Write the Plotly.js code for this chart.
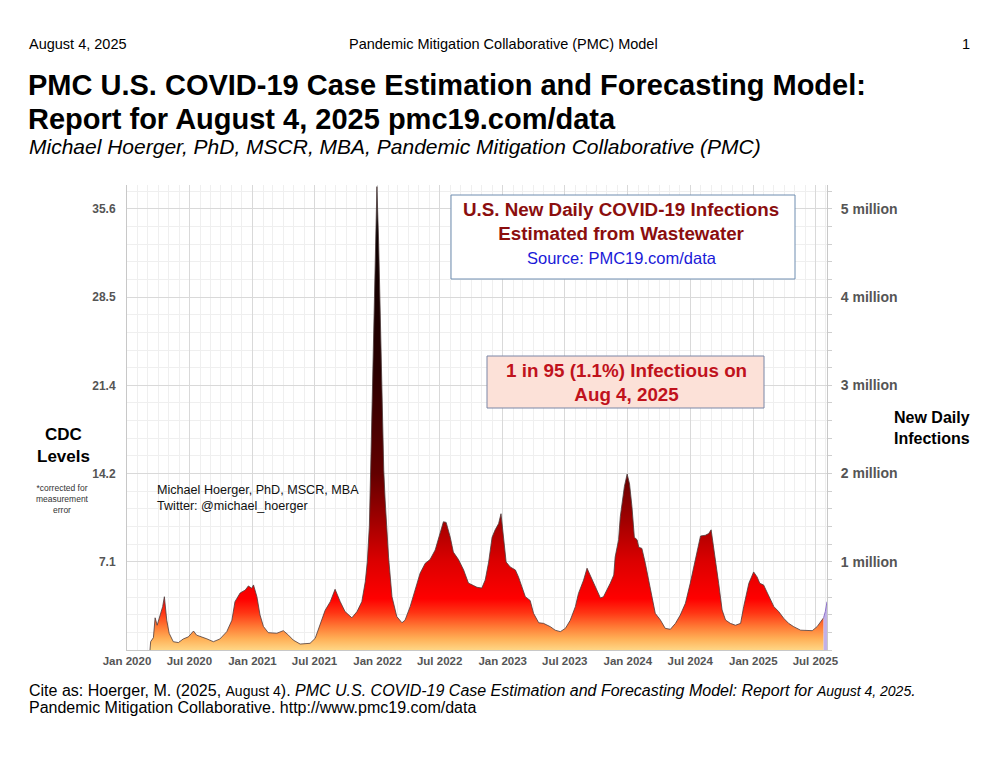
<!DOCTYPE html>
<html>
<head>
<meta charset="utf-8">
<script src="https://cdn.plot.ly/plotly-3.0.1.min.js"></script>
<style>
html,body{margin:0;padding:0;background:#fff;}
#chart{width:1000px;height:761px;}
</style>
</head>
<body>
<div id="chart"></div>
<script>
// ---- data (CDC wastewater levels) ----
const dates = [
'2020-03-08','2020-03-10','2020-03-18','2020-03-23','2020-03-29','2020-04-06','2020-04-14','2020-04-19','2020-04-26','2020-05-03',
'2020-05-15','2020-05-30','2020-06-13','2020-06-28','2020-07-13','2020-07-22','2020-08-06','2020-08-21','2020-09-09','2020-09-28',
'2020-10-18','2020-11-02','2020-11-11','2020-11-26','2020-12-11','2020-12-20','2020-12-30','2021-01-04','2021-01-14','2021-01-23',
'2021-02-02','2021-02-16','2021-03-13','2021-04-01','2021-04-16','2021-04-30','2021-05-20','2021-06-18','2021-07-03','2021-07-17',
'2021-08-01','2021-08-16','2021-08-30','2021-09-14','2021-09-28','2021-10-18','2021-11-02','2021-11-16','2021-11-26','2021-12-02',
'2021-12-08','2021-12-13','2021-12-19','2021-12-25','2021-12-30','2022-01-04','2022-01-09','2022-01-14','2022-01-19','2022-01-23',
'2022-02-02','2022-02-12','2022-02-26','2022-03-13','2022-03-22','2022-04-06','2022-04-21','2022-05-05','2022-05-20','2022-06-03',
'2022-06-18','2022-07-03','2022-07-12','2022-07-20','2022-08-01','2022-08-10','2022-08-25','2022-09-09','2022-09-23','2022-10-08',
'2022-10-18','2022-11-01','2022-11-11','2022-11-21','2022-12-01','2022-12-10','2022-12-20','2022-12-27','2023-01-03','2023-01-11',
'2023-01-23','2023-02-07','2023-02-16','2023-02-26','2023-03-08','2023-03-22','2023-04-01','2023-04-16','2023-04-30','2023-05-20',
'2023-06-03','2023-06-18','2023-07-03','2023-07-17','2023-08-01','2023-08-10','2023-08-25','2023-09-04','2023-09-14','2023-09-28',
'2023-10-13','2023-10-22','2023-10-27','2023-11-11','2023-11-21','2023-11-25','2023-12-05','2023-12-10','2023-12-22','2023-12-30',
'2024-01-06','2024-01-13','2024-01-20','2024-01-28','2024-02-02','2024-02-11','2024-02-21','2024-03-07','2024-03-21','2024-04-05',
'2024-04-19','2024-05-04','2024-05-19','2024-06-02','2024-06-17','2024-07-01','2024-07-16','2024-07-31','2024-08-14','2024-08-24',
'2024-08-31','2024-09-12','2024-09-22','2024-10-02','2024-10-12','2024-10-26','2024-11-10','2024-11-25','2024-12-04','2024-12-19',
'2025-01-02','2025-01-12','2025-01-20','2025-01-31','2025-02-15','2025-03-02','2025-03-16','2025-03-31','2025-04-14','2025-04-29',
'2025-05-19','2025-06-07','2025-06-22','2025-07-06','2025-07-21','2025-07-25'
];
const cdcLevels = [
0.0,0.67,1.0,2.6,2.0,2.8,3.5,4.3,2.4,1.35,
0.67,0.6,0.89,1.06,1.53,1.2,1.08,0.9,0.67,0.89,
1.48,2.4,3.9,4.6,4.84,5.17,4.98,5.25,4.3,2.83,
1.9,1.4,1.35,1.56,1.2,0.8,0.48,0.54,0.94,2.0,
3.2,3.9,4.9,3.9,3.1,2.6,3.1,3.9,5.5,7.1,
10.0,16.0,24.0,32.0,37.4,33.0,26.0,19.0,14.5,12.1,
7.5,4.3,2.7,2.2,2.4,3.5,4.84,6.2,7.0,7.3,
8.07,9.4,10.35,10.3,9.1,7.9,7.3,6.46,5.4,5.2,
5.06,5.0,5.65,7.1,9.1,9.7,10.2,11.0,9.1,7.1,
6.7,6.46,5.9,5.1,4.3,4.0,2.96,2.2,2.15,1.88,
1.6,1.48,1.75,2.4,3.5,4.57,5.65,6.6,6.0,5.1,
4.2,4.3,4.57,5.4,6.05,7.5,8.9,10.76,13.2,14.2,
13.4,11.57,9.1,8.9,8.3,8.2,7.0,4.84,2.96,2.42,
1.75,1.67,2.15,2.82,3.77,5.38,7.26,9.2,9.26,9.4,
9.7,7.53,5.38,3.23,2.42,2.15,2.0,2.15,3.5,5.38,
6.3,5.9,5.38,5.25,4.3,3.5,3.1,2.55,2.15,1.88,
1.6,1.6,1.56,1.88,2.42,2.6
];
// most recent (forecast / nowcast) segment, drawn in purple
const recentDates = ['2025-07-25','2025-07-30','2025-08-04'];
const recentLevels = [2.6,3.1,3.9];

// axis ticks
const leftTickVals = [7.12,14.24,21.36,28.48,35.6];
const leftTickText = ['7.1','14.2','21.4','28.5','35.6'];
const rightTickVals = [1,2,3,4,5];
const rightTickText = ['1 million','2 million','3 million','4 million','5 million'];
const levelsPerMillion = 7.12;

// ---- layout helpers (page pixel -> paper coordinates) ----
const PL = 127, PR = 827, PT = 185, PB = 650;
const W = 1000, H = 761;
const yMax = (PB - PT) / 12.39;
const px = x => (x - PL) / (PR - PL);
const py = y => (PB - y) / (PB - PT);
const FONT = '"Liberation Sans", Arial, sans-serif';

const gradient = {
  type: 'vertical', start: 0, stop: yMax,
  colorscale: [
    [0.0, '#FFD685'], [0.025, '#FFAE55'], [0.05, '#FF7A35'], [0.08, '#FF3514'],
    [0.11, '#FF0000'], [0.19, '#DC0000'], [0.28, '#A00000'], [0.38, '#620000'],
    [0.6, '#2A0000'], [1.0, '#000000']
  ]
};

const traces = [
  {
    x: dates, y: cdcLevels, type: 'scatter', mode: 'lines',
    fill: 'tozeroy', fillgradient: gradient,
    line: {color: '#4d3b3b', width: 0.8},
    hoverinfo: 'skip', showlegend: false
  },
  {
    x: recentDates, y: recentLevels, type: 'scatter', mode: 'lines',
    fill: 'tozeroy', fillcolor: 'rgba(186,168,230,0.9)',
    line: {color: '#8f74c8', width: 1},
    hoverinfo: 'skip', showlegend: false
  },
  { x: [], y: [], yaxis: 'y2', type: 'scatter', showlegend: false }
];

function ann(text, x, y, o) {
  return Object.assign({
    text: text, x: px(x), y: py(y), xref: 'paper', yref: 'paper',
    showarrow: false, xanchor: 'left', yanchor: 'middle', align: 'left',
    font: {family: FONT, size: 14.5, color: '#000'}
  }, o || {});
}

const annotations = [
  ann('August 4, 2025', 27, 44),
  ann('Pandemic Mitigation Collaborative (PMC) Model', 503, 44, {xanchor: 'center'}),
  ann('1', 972, 44, {xanchor: 'right'}),
  ann('<b>PMC U.S. COVID-19 Case Estimation and Forecasting Model:</b>', 26, 85, {font: {family: FONT, size: 29, color: '#000'}}),
  ann('<b>Report for August 4, 2025 pmc19.com/data</b>', 26, 119, {font: {family: FONT, size: 29, color: '#000'}}),
  ann('<i>Michael Hoerger, PhD, MSCR, MBA, Pandemic Mitigation Collaborative (PMC)</i>', 27, 147, {font: {family: FONT, size: 21, color: '#000'}}),
  ann('<b>CDC<br>Levels</b>', 63, 445, {xanchor: 'center', align: 'center', font: {family: FONT, size: 17, color: '#000'}}),
  ann('*corrected for<br>measurement<br>error', 62, 499, {xanchor: 'center', align: 'center', font: {family: FONT, size: 8.5, color: '#333'}}),
  ann('<b>New Daily<br>Infections</b>', 892, 428, {align: 'center', font: {family: FONT, size: 16, color: '#000'}}),
  ann('Michael Hoerger, PhD, MSCR, MBA<br>Twitter: @michael_hoerger', 155, 498, {font: {family: FONT, size: 12.6, color: '#111'}}),
  ann('<b>U.S. New Daily COVID-19 Infections<br>Estimated from Wastewater</b>', 621, 221, {xanchor: 'center', align: 'center', font: {family: FONT, size: 18.8, color: '#8B0E0E'}}),
  ann('Source: PMC19.com/data', 622, 258, {xanchor: 'center', font: {family: FONT, size: 16.5, color: '#1a1ad8'}}),
  ann('<b>1 in 95 (1.1%) Infectious on<br>Aug 4, 2025</b>', 626, 382, {xanchor: 'center', align: 'center', font: {family: FONT, size: 18.8, color: '#C0121C'}}),
  ann('Cite as: Hoerger, M. (2025, <span style="font-size:14px">August 4</span>). <i>PMC U.S. COVID-19 Case Estimation and Forecasting Model: Report for <span style="font-size:14px">August 4, 2025</span>.</i>', 27, 690, {font: {family: FONT, size: 16, color: '#000'}}),
  ann('Pandemic Mitigation Collaborative. http://www.pmc19.com/data', 27, 707, {font: {family: FONT, size: 16, color: '#000'}})
];

const shapes = [
  {type: 'rect', xref: 'paper', yref: 'paper', x0: px(451), x1: px(795), y0: py(195), y1: py(279),
   fillcolor: '#ffffff', line: {color: '#6f8db0', width: 1}, layer: 'above'},
  {type: 'rect', xref: 'paper', yref: 'paper', x0: px(487), x1: px(764), y0: py(356), y1: py(408),
   fillcolor: '#FCE1D8', line: {color: '#7a86a6', width: 1}, layer: 'above'}
];

const layout = {
  width: W, height: H,
  margin: {l: PL, r: W - PR, t: PT, b: H - PB},
  paper_bgcolor: '#ffffff', plot_bgcolor: '#ffffff',
  showlegend: false,
  font: {family: FONT},
  xaxis: {
    type: 'date', range: ['2020-01-01', '2025-08-04'],
    tick0: '2020-01-01', dtick: 'M6', tickformat: '%b %Y',
    showgrid: true, gridcolor: '#d9d9d9', gridwidth: 1,
    minor: {dtick: 'M1', showgrid: true, gridcolor: '#efefef'},
    showline: true, linecolor: '#c8c8c8', zeroline: false,
    tickfont: {family: FONT, size: 11.5, color: '#555', weight: 'bold'},
    ticks: '', fixedrange: true
  },
  yaxis: {
    range: [0, yMax],
    tickmode: 'array', tickvals: leftTickVals, ticktext: leftTickText,
    showgrid: true, gridcolor: '#d9d9d9',
    minor: {tickmode: 'linear', tick0: 0, dtick: levelsPerMillion / 5, showgrid: true, gridcolor: '#efefef'},
    showline: true, linecolor: '#c8c8c8', zeroline: false,
    ticklabelstandoff: 8,
    tickfont: {family: FONT, size: 12, color: '#555', weight: 'bold'}
  },
  yaxis2: {
    overlaying: 'y', side: 'right', range: [0, yMax / levelsPerMillion],
    tickmode: 'array', tickvals: rightTickVals, ticktext: rightTickText,
    showgrid: false, zeroline: false, showline: true, linecolor: '#c8c8c8',
    ticks: 'outside', ticklen: 4, tickcolor: '#cfcfcf',
    minor: {tickmode: 'linear', tick0: 0, dtick: 0.2, ticks: 'outside', ticklen: 4, tickcolor: '#cfcfcf'},
    ticklabelstandoff: 6,
    tickfont: {family: FONT, size: 14, color: '#555', weight: 'bold'}
  },
  annotations: annotations,
  shapes: shapes
};

Plotly.newPlot('chart', traces, layout, {displayModeBar: false, staticPlot: true});
</script>
</body>
</html>
